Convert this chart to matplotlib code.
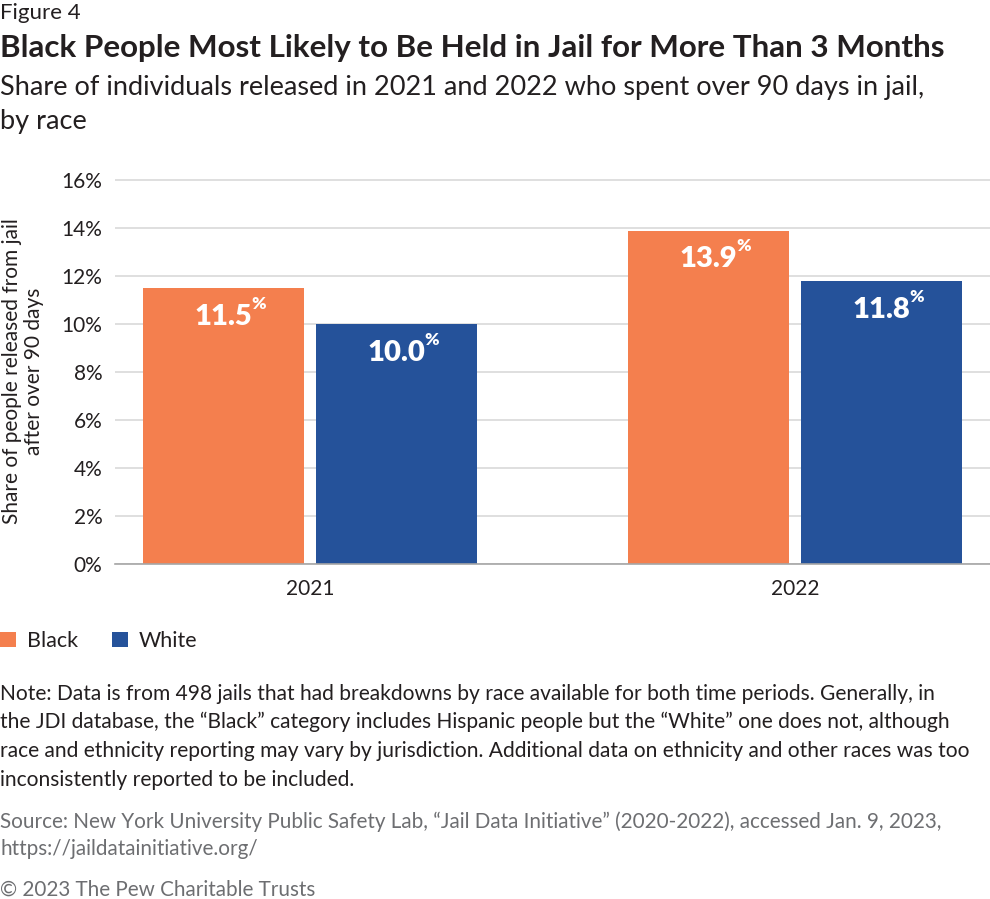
import matplotlib
matplotlib.use("Agg")
import matplotlib.pyplot as plt
import numpy as np

years = ["2021", "2022"]
races = ["Black", "White"]
black = [11.5, 13.9]
white = [10.0, 11.8]
yticks = [0, 2, 4, 6, 8, 10, 12, 14, 16]

ORANGE = "#F47F4E"
BLUE = "#25529A"
TEXT = "#231F20"
GRAY = "#6D6E71"

plt.rcParams["font.family"] = ["Lato", "DejaVu Sans"]

W, H = 990, 899
fig = plt.figure(figsize=(W / 100, H / 100), dpi=100)


def fy(px):
    return 1 - px / H


ax = fig.add_axes([115 / W, fy(564), 875 / W, (564 - 179) / H])

x = np.arange(len(years))
width = 0.332
offset = 0.178
bars_b = ax.bar(x - offset, black, width, color=ORANGE, label=races[0], zorder=2)
bars_w = ax.bar(x + offset, white, width, color=BLUE, label=races[1], zorder=2)

ax.set_xlim(-0.402, 1.402)
ax.set_ylim(0, 16.05)
ax.set_yticks(yticks)
ax.set_yticklabels([f"{t}%" for t in yticks])
ax.set_xticks(x)
ax.set_xticklabels(years)
ax.tick_params(axis="both", length=0, labelsize=15, colors=TEXT)
ax.tick_params(axis="y", pad=9)
ax.tick_params(axis="x", pad=11)
for s in ["top", "right", "left"]:
    ax.spines[s].set_visible(False)
ax.spines["bottom"].set_color("#A6A6A6")
ax.spines["bottom"].set_linewidth(1.2)
ax.spines["bottom"].set_zorder(3)
ax.yaxis.grid(True, color="#D9D9D9", linewidth=1.2, zorder=0)
ax.set_axisbelow(True)

ax.set_ylabel("Share of people released from jail\nafter over 90 days",
              fontsize=15, color=TEXT, linespacing=1.12, labelpad=0)
ax.yaxis.set_label_coords(-0.0815, 0.5)

# value labels: number centred on bar, small % raised after it
renderer = fig.canvas.get_renderer()
for bars, vals in [(bars_b, black), (bars_w, white)]:
    for b, v in zip(bars, vals):
        cx = b.get_x() + b.get_width() / 2
        t = ax.annotate(f"{v:.1f}", (cx, v), xytext=(0, -26.5),
                        textcoords="offset points", ha="center", va="baseline",
                        fontsize=21, fontweight="heavy", color="white", zorder=4)
        bb = t.get_window_extent(renderer)
        ax.annotate("%", (cx, v), xytext=(bb.width / 2 * 0.72 - 0.8, -15),
                    textcoords="offset points", ha="left", va="baseline",
                    fontsize=12.5, fontweight="heavy", color="white", zorder=4)

# legend
fig.legend(handles=[bars_b, bars_w], labels=races, loc="upper left",
           bbox_to_anchor=(0 / W, fy(631)), ncol=2, frameon=False,
           fontsize=15.5, handlelength=0.72, handleheight=0.72,
           handletextpad=0.52, columnspacing=1.6, borderaxespad=0,
           borderpad=0, labelcolor=TEXT)

# headings
fig.text(0, fy(19), "Figure 4", fontsize=16, color=TEXT, va="baseline")
fig.text(0, fy(57), "Black People Most Likely to Be Held in Jail for More Than 3 Months",
         fontsize=22.6, fontweight="bold", color=TEXT, va="baseline")
fig.text(0, fy(95), "Share of individuals released in 2021 and 2022 who spent over 90 days in jail,",
         fontsize=19.5, color=TEXT, va="baseline")
fig.text(0, fy(129), "by race", fontsize=19.5, color=TEXT, va="baseline")

note_lines = [
    "Note: Data is from 498 jails that had breakdowns by race available for both time periods. Generally, in",
    "the JDI database, the \u201cBlack\u201d category includes Hispanic people but the \u201cWhite\u201d one does not, although",
    "race and ethnicity reporting may vary by jurisdiction. Additional data on ethnicity and other races was too",
    "inconsistently reported to be included.",
]
for i, line in enumerate(note_lines):
    fig.text(0, fy(700 + 28.5 * i), line, fontsize=15.1, color=TEXT, va="baseline")

source_lines = [
    "Source: New York University Public Safety Lab, \u201cJail Data Initiative\u201d (2020-2022), accessed Jan. 9, 2023,",
    "https://jaildatainitiative.org/",
]
for i, line in enumerate(source_lines):
    fig.text(0, fy(828 + 27 * i), line, fontsize=14.9, color=GRAY, va="baseline")

fig.text(0, fy(896), "\u00a9 2023 The Pew Charitable Trusts", fontsize=14.9, color=GRAY,
         va="baseline")

fig.savefig("out.png", dpi=100)
